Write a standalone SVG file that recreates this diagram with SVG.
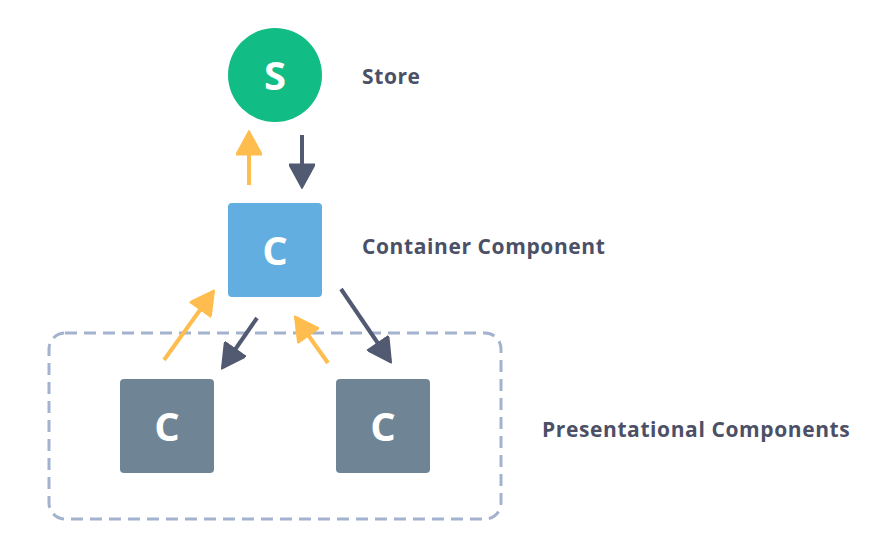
<svg xmlns="http://www.w3.org/2000/svg" width="873" height="553" viewBox="0 0 873 553">
<style>
.lbl{font-family:"Open Sans","Noto Sans",sans-serif;font-weight:700;font-size:21px;letter-spacing:0.6px;fill:#4B5067}
.ltr{font-family:"Open Sans","Noto Sans",sans-serif;font-weight:700;font-size:40px;fill:#fff;text-anchor:middle}
.up{stroke:#FFBD4F;stroke-width:4;fill:none}
.dn{stroke:#525A72;stroke-width:4;fill:none}
</style>
<defs>
<marker id="hy" markerUnits="userSpaceOnUse" markerWidth="26" markerHeight="26" viewBox="0 0 22 24" refX="20" refY="12" orient="auto">
<path d="M0,0 L22,12 L0,24 Z" fill="#FFBD4F" stroke="#FFBD4F" stroke-linejoin="round" stroke-width="1.5"/>
</marker>
<marker id="hd" markerUnits="userSpaceOnUse" markerWidth="26" markerHeight="26" viewBox="0 0 22 24" refX="20" refY="12" orient="auto">
<path d="M0,0 L22,12 L0,24 Z" fill="#525A72" stroke="#525A72" stroke-linejoin="round" stroke-width="1.5"/>
</marker>
</defs>
<rect width="873" height="553" fill="#fff"/>
<g id="group-presentational">
<rect x="49" y="333" width="452" height="186" rx="16" fill="none" stroke="#A3B2CE" stroke-width="3" stroke-dasharray="12 7"/>
</g>
<g id="connectors">
<line class="up" x1="249" y1="185" x2="249" y2="133" marker-end="url(#hy)"/>
<line class="dn" x1="302" y1="135" x2="302" y2="186" marker-end="url(#hd)"/>
<line class="up" x1="164" y1="360" x2="213" y2="292" marker-end="url(#hy)"/>
<line class="dn" x1="257" y1="318" x2="223" y2="367" marker-end="url(#hd)"/>
<line class="up" x1="328" y1="363" x2="296" y2="318" marker-end="url(#hy)"/>
<line class="dn" x1="341" y1="289" x2="390" y2="361" marker-end="url(#hd)"/>
</g>
<g id="store">
<circle cx="275" cy="75" r="47" fill="#12BC85"/>
<text class="ltr" x="275" y="90">S</text>
<text class="lbl" x="362" y="84">Store</text>
</g>
<g id="container">
<rect x="228" y="203" width="94" height="94" rx="4" fill="#62AEE1"/>
<text class="ltr" x="275" y="265">C</text>
<text class="lbl" x="362" y="254">Container Component</text>
</g>
<g id="pres-left">
<rect x="120" y="379" width="94" height="94" rx="4" fill="#6F8595"/>
<text class="ltr" x="167" y="441">C</text>
</g>
<g id="pres-right">
<rect x="336" y="379" width="94" height="94" rx="4" fill="#6F8595"/>
<text class="ltr" x="383" y="441">C</text>
</g>
<text class="lbl" x="542" y="437">Presentational Components</text>
</svg>
